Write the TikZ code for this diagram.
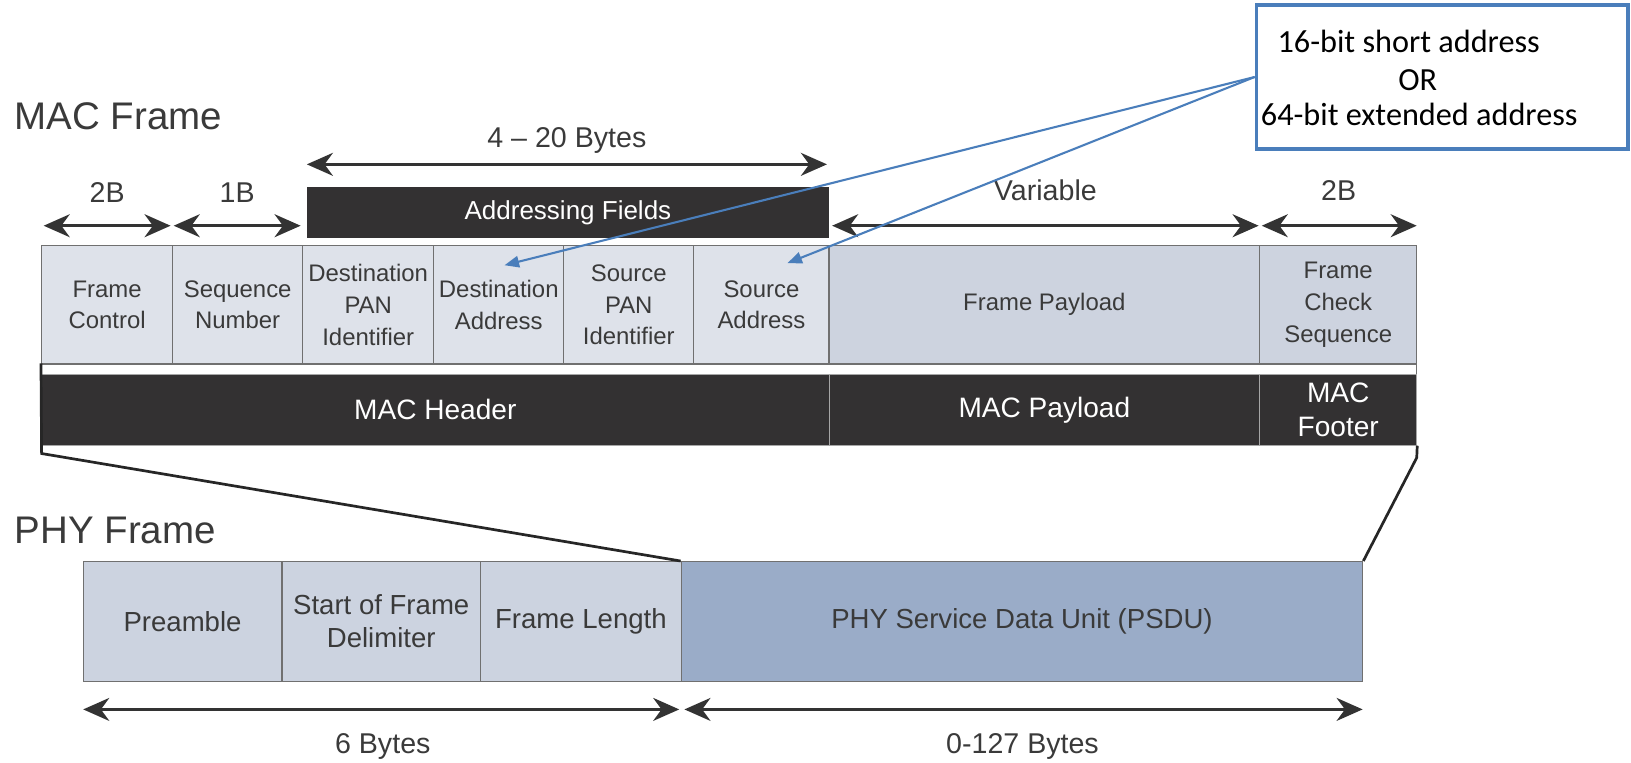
\documentclass[tikz,border=0pt]{standalone}
\usepackage{fontspec}
\setmainfont{Liberation Sans}
\newfontfamily\calloutfont{Carlito}
\usetikzlibrary{arrows.meta}
\definecolor{cellA}{HTML}{DEE2EA}
\definecolor{cellB}{HTML}{CDD3DF}
\definecolor{phyA}{HTML}{CCD3E0}
\definecolor{phyB}{HTML}{9AACC8}
\definecolor{barblack}{HTML}{333132}
\definecolor{cellline}{HTML}{707070}
\definecolor{txt}{HTML}{3A3A3A}
\definecolor{dimgrey}{HTML}{333333}
\definecolor{callblue}{HTML}{4A7EBB}
\newcommand\myfs[2]{\fontsize{#1}{#2}\selectfont}
\begin{document}
\begin{tikzpicture}[x=1pt,y=-1pt,
  cell/.style={draw=cellline, line width=1.3pt, inner sep=0pt, align=center, text=txt,
               minimum height=114pt, font=\myfs{23}{30.5}},
  phycell/.style={draw=cellline, line width=1.3pt, inner sep=0pt, align=center, text=txt,
               minimum height=115pt, font=\myfs{26.5}{32}},
  barcell/.style={draw=gray!70, line width=1pt, fill=barblack, inner sep=0pt, align=center,
               text=white, minimum height=68pt, font=\myfs{27}{32}},
  dimarrow/.style={draw=dimgrey, line width=3pt,
               {Stealth[length=25pt,width=22pt,inset=8pt]}-{Stealth[length=25pt,width=22pt,inset=8pt]}},
  dimlabel/.style={inner sep=0pt, text=txt, font=\myfs{27.5}{32}},
  title/.style={inner sep=0pt, anchor=west, text=txt, font=\myfs{37}{40}},
  zoomline/.style={draw=black!85, line width=2.6pt, line join=miter},
  bluearrow/.style={draw=callblue, line width=2pt, -{Triangle[length=14pt,width=11pt]}},
  calltext/.style={inner sep=0pt, anchor=west, text=black, font=\calloutfont\myfs{31}{34}}
]
\useasboundingbox (0,0) rectangle (1568,733);

% titles
\node[title] (macttl) at (14,112) {MAC Frame};
\node[title] (phyttl) at (14,510) {PHY Frame};

% top row cells
\node[cell, fill=cellA, minimum width=126pt] (fc)   at (103,293)   {Frame\\Control};
\node[cell, fill=cellA, minimum width=125pt] (sn)   at (228.5,293) {Sequence\\Number};
\node[cell, fill=cellA, minimum width=126pt] (dpan) at (354,293)   {Destination\\PAN\\Identifier};
\node[cell, fill=cellA, minimum width=125pt] (da)   at (479.5,293) {Destination\\Address};
\node[cell, fill=cellA, minimum width=125pt] (span) at (604.5,293) {Source\\PAN\\Identifier};
\node[cell, fill=cellA, minimum width=130pt] (sa)   at (732,293)   {Source\\Address};
\node[cell, fill=cellB, minimum width=414pt] (fp)   at (1004,293)  {Frame Payload};
\node[cell, fill=cellB, minimum width=151pt] (fcs)  at (1286.5,293){Frame\\Check\\Sequence};

% white strip
\node[draw=cellline, line width=1.2pt, fill=white, inner sep=0pt, minimum width=1322pt, minimum height=10pt] (strip) at (701,355) {};

% MAC bar
\node[barcell, minimum width=757pt] (hdr) at (418.5,394) {MAC Header};
\node[barcell, minimum width=414pt] (pay) at (1004,394)  {MAC Payload};
\node[barcell, minimum width=151pt] (ftr) at (1286.5,394){MAC\\Footer};

% addressing fields
\node[fill=barblack, inner sep=0pt, minimum width=502pt, minimum height=49pt, text=white,
      font=\myfs{25}{30}] (addr) at (546,204.5) {Addressing Fields};

% dimension arrows top
\coordinate (a1l) at (42,217);   \coordinate (a1r) at (164,217);
\coordinate (a2l) at (167,217);  \coordinate (a2r) at (289,217);
\coordinate (a3l) at (295,158);  \coordinate (a3r) at (795,158);
\coordinate (a4l) at (800,217);  \coordinate (a4r) at (1210,217);
\coordinate (a5l) at (1213,217); \coordinate (a5r) at (1362,217);
\draw[dimarrow] (a1l) -- (a1r);
\draw[dimarrow] (a2l) -- (a2r);
\draw[dimarrow] (a3l) -- (a3r);
\draw[dimarrow] (a4l) -- (a4r);
\draw[dimarrow] (a5l) -- (a5r);
\node[dimlabel] (l2b)  at (103,185)  {2B};
\node[dimlabel] (l1b)  at (228,185)  {1B};
\node[dimlabel] (l420) at (545,135)  {4 -- 20 Bytes};
\node[dimlabel] (lvar) at (1005,183) {Variable};
\node[dimlabel] (l2bb) at (1287,183) {2B};

% PHY row
\node[phycell, fill=phyA, minimum width=191pt] (pre)  at (175.5,597.5) {Preamble};
\node[phycell, fill=phyA, minimum width=191pt] (sfd)  at (366.5,597.5) {Start of Frame\\Delimiter};
\node[phycell, fill=phyA, minimum width=193pt] (fl)   at (558.5,597.5) {Frame Length};
\node[phycell, fill=phyB, minimum width=655pt] (psdu) at (982.5,597.5) {PHY Service Data Unit (PSDU)};

% zoom lines
\coordinate (lbend) at (40,436);
\coordinate (rbend) at (1362,440);
\draw[zoomline] (strip.north west) -- (lbend) -- (psdu.north west);
\draw[zoomline] (ftr.south east) -- (rbend) -- (psdu.north east);

% bottom dims
\coordinate (b1l) at (80,682);  \coordinate (b1r) at (653,682);
\coordinate (b2l) at (658,682); \coordinate (b2r) at (1310,682);
\draw[dimarrow] (b1l) -- (b1r);
\draw[dimarrow] (b2l) -- (b2r);
\node[dimlabel] (l6)   at (368,718) {6 Bytes};
\node[dimlabel] (l127) at (983,718) {0-127 Bytes};

% callout
\node[draw=callblue, line width=3.5pt, fill=white, minimum width=357pt, minimum height=138pt, inner sep=0pt] (callout) at (1386.5,74) {};
\node[calltext] (ct1) at (1228,40) {16-bit short address};
\node[calltext, anchor=center] (ct2) at (1363,77) {OR};
\node[calltext] (ct3) at (1212,110) {64-bit extended address};
\coordinate (datip) at (485,255);
\coordinate (satip) at (757,253);
\draw[bluearrow] (callout.west) -- (datip);
\draw[bluearrow] (callout.west) -- (satip);
\end{tikzpicture}
\end{document}
